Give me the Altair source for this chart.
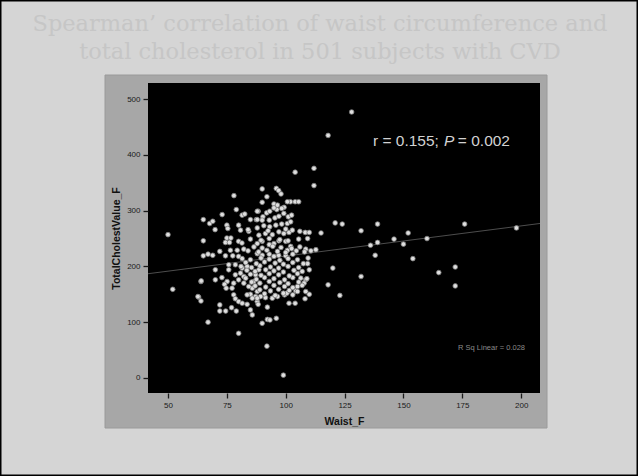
import altair as alt
import pandas as pd

# ---- data (waist circumference, total cholesterol) ----
waist = [
    # outliers right / top
    128, 118, 121, 124, 139, 132, 152, 146, 139, 136, 150, 160, 176, 198, 138, 154,
    115, 120, 132, 118, 123, 165, 172, 172, 104, 112, 112, 102, 104, 105.5,
    # outliers left / bottom
    50, 52, 64, 63, 64, 67, 80, 92, 99, 90, 92.2, 93.3, 96,
    72, 72, 74.5, 77, 79, 62.7,
    # upper-left scatter
    90, 96, 97, 98, 78, 92, 65, 67.7, 69, 70, 73, 65, 79, 75, 75.4, 80, 80.8, 81.5, 82.6,
    88.3, 85, 87.5, 84.3, 75, 76.7, 74.4, 76.1, 80, 81.4, 72, 65, 67, 69, 74.4, 77.5, 80,
    76.5, 79.4, 82.2, 90, 91.9, 95, 96.2, 99.3, 100.7,
    # upper part of the cluster
    87.9, 90.3, 93.2, 95, 96.5, 98.3,
    87.9, 90, 93, 95.4, 97.1, 99.2, 101.1, 102.5,
    87.9, 90.7, 93.2, 95.8, 98.3, 100.7, 102.1,
    88.6, 91.4, 94.3, 97.1, 99.2, 101.4, 102.8, 108.3, 110, 109.3,
    87.9, 90, 93, 95, 97.1, 100, 102.1, 100.7, 108.5, 110.7, 112.8,
    87.9, 90, 93, 95, 97, 100, 103,
    # lower-left of the cluster
    64.1, 70.1, 70.1, 72.9, 75.1, 75.8, 74, 74.7, 77.2, 77.9,
    77.9, 78.6, 80, 81.5, 83.6, 85, 85.8,
    85.8, 87.9, 87.2, 85, 78.6, 80.8, 82.2, 80, 75.8, 78.6, 81.5, 83.6,
    82.2, 84.3, 86.4, 87.2, 88.6, 83.6, 85.8, 87.9,
    # lower-right of the cluster
    109.3, 110, 108.5, 106.4, 107.8, 105, 104.3, 108.5, 110, 108.2, 101.4, 104,
    88.3, 92.2, 99.5, 100.5, 96.5, 94.3, 91.4, 89.3, 87.9,
    # dense core
    91, 95.5, 99, 103,
    89, 93.5, 97, 101.5, 105,
    87, 91.5, 95, 99.5, 103, 107,
    85.5, 89, 93, 97.5, 101, 105.5,
    83, 87.5, 91, 95, 99.5, 103, 109,
    85, 89.5, 93, 97, 101.5, 105,
    83.5, 87, 91.5, 95, 99, 103.5, 107,
    81, 85.5, 89, 93.5, 97, 101, 105.5,
    83, 87.5, 91, 95.5, 99, 103, 107.5,
    81.5, 85, 89.5, 93, 97.5, 101, 105, 109.5,
    84, 88.5, 92, 96.5, 100, 104.5, 108,
    86.5, 90, 94.5, 98, 102.5, 106,
    85, 89.5, 93, 97.5, 101, 105.5,
    84, 92.5, 100, 106,
]
cholesterol = [
    477, 435, 278, 276, 276, 264, 260, 249, 243, 238, 240, 250, 276, 269, 220, 214,
    260, 197, 182, 167, 148, 189, 199, 165, 369, 376, 345, 316, 316, 316,
    257, 159, 173, 145, 138, 100, 80, 57, 5, 98, 105, 104, 107,
    131, 120, 120, 126, 120, 146,
    339, 340, 336, 330, 327, 325, 284, 277, 281, 266, 293, 246, 302, 274, 268, 274, 265, 292, 294,
    299, 284, 284, 263, 251, 251, 243, 243, 245, 242, 227, 219, 222, 220, 219, 219, 218,
    229, 229, 231, 315, 296, 312, 302, 306, 316,
    299, 289, 299, 305, 310, 304,
    284, 283, 283, 287, 290, 295, 289, 292,
    269, 273, 271, 274, 276, 277, 280,
    256, 259, 257, 262, 259, 261, 265, 261, 261, 250,
    241, 245, 239, 241, 246, 245, 236, 229, 231, 228, 230,
    223, 220, 222, 218, 220, 219, 222,
    174, 194, 176, 180, 173, 194, 168, 161, 161, 170,
    149, 142, 137, 134, 132, 122, 113,
    161, 155, 146, 150, 185, 188, 182, 176, 203, 203, 197, 200,
    170, 164, 173, 185, 194, 149, 143, 137,
    205, 194, 176, 179, 170, 164, 156, 155, 150, 142, 134, 134,
    132, 127, 149, 152, 146, 143, 144, 146, 143,
    151, 148, 152, 149,
    158, 156, 159, 157, 155,
    165, 163, 166, 164, 162, 166,
    172, 170, 173, 171, 169, 172,
    179, 177, 180, 178, 176, 180, 178,
    186, 184, 187, 185, 183, 187,
    193, 191, 194, 192, 190, 193, 191,
    200, 198, 201, 199, 197, 200, 198,
    207, 205, 208, 206, 204, 207, 205,
    214, 212, 215, 213, 211, 214, 212, 215,
    228, 226, 229, 227, 225, 228, 226,
    235, 233, 236, 234, 232, 235,
    249, 247, 250, 248, 246, 249,
    266, 264, 267, 263,
]

title_lines = ["Spearman\u2019 correlation of waist circumference and",
               "total cholesterol in 501 subjects with CVD"]
x_ticks = [50, 75, 100, 125, 150, 175, 200]
y_ticks = [0, 100, 200, 300, 400, 500]
x_domain = [41.5, 208]
y_domain = [-27, 529]

df = pd.DataFrame({"Waist_F": waist, "TotalCholestValue_F": cholesterol})
one = pd.DataFrame({"k": [0]})

W, H = 392, 310

xs = alt.Scale(domain=x_domain, nice=False, zero=False)
ys = alt.Scale(domain=y_domain, nice=False, zero=False)

border = alt.Chart(one).mark_rect(fillOpacity=0, stroke="#000000", strokeWidth=3).encode(
    x=alt.value(-148), x2=alt.value(490), y=alt.value(-83), y2=alt.value(393))

panel = alt.Chart(one).mark_rect(fill="#a7a7a7", stroke="#9a9a9a", strokeWidth=1).encode(
    x=alt.value(-43), x2=alt.value(399), y=alt.value(-8), y2=alt.value(345))

plotbg = alt.Chart(one).mark_rect(fill="#000000").encode(
    x=alt.value(0), x2=alt.value(W), y=alt.value(0), y2=alt.value(H))

title1 = alt.Chart(one).mark_text(
    text=title_lines[0], font="DejaVu Serif", fontSize=22.5, color="#c6c6c6",
    align="center", baseline="middle").encode(x=alt.value(172), y=alt.value(-59))
title2 = alt.Chart(one).mark_text(
    text=title_lines[1], font="DejaVu Serif", fontSize=22.5, color="#c6c6c6",
    align="center", baseline="middle").encode(x=alt.value(172), y=alt.value(-31))

base = alt.Chart(df)

points = base.mark_point(filled=True, size=22, fill="#dedede", stroke="#7a7a7a",
                         strokeWidth=0.8, opacity=1).encode(
    x=alt.X("Waist_F:Q", scale=xs, title="Waist_F",
            axis=alt.Axis(values=x_ticks, format="d", zindex=2)),
    y=alt.Y("TotalCholestValue_F:Q", scale=ys, title="TotalCholestValue_F",
            axis=alt.Axis(values=y_ticks, format="d", zindex=2)),
)

fit = base.transform_regression(
    "Waist_F", "TotalCholestValue_F", extent=x_domain
).mark_line(color="#4d4d4d", strokeWidth=1).encode(
    x=alt.X("Waist_F:Q", scale=xs), y=alt.Y("TotalCholestValue_F:Q", scale=ys))

ann_font = "Liberation Sans"
ann1 = alt.Chart(one).mark_text(text="r = 0.155; ", font=ann_font, fontSize=15.5,
    color="#d2d2d2", align="left", baseline="alphabetic").encode(
    x=alt.value(225), y=alt.value(63))
ann2 = alt.Chart(one).mark_text(text="P", font=ann_font, fontSize=15.5, fontStyle="italic",
    color="#d2d2d2", align="left", baseline="alphabetic").encode(
    x=alt.value(296), y=alt.value(63))
ann3 = alt.Chart(one).mark_text(text=" = 0.002", font=ann_font, fontSize=15.5,
    color="#d2d2d2", align="right", baseline="alphabetic").encode(
    x=alt.value(362), y=alt.value(63))
rsq = alt.Chart(one).mark_text(text="R Sq Linear = 0.028", font=ann_font, fontSize=7.5,
    color="#8a8a8a", align="right", baseline="middle").encode(
    x=alt.value(377), y=alt.value(265))

chart = alt.layer(
    border, panel, plotbg, title1, title2, fit, points, ann1, ann2, ann3, rsq
).properties(
    width=W, height=H,
    autosize=alt.AutoSizeParams(type="none"),
    padding={"left": 148, "top": 83, "right": 98, "bottom": 83},
    background="#d5d5d5",
).configure_view(stroke=None).configure_axis(
    grid=False, domain=False,
    labelFont="Liberation Sans", labelFontSize=8, labelColor="#1a1a1a",
    tickColor="#1a1a1a", tickSize=5, tickWidth=1.3,
    titleFont="Liberation Sans", titleFontSize=10.5, titleFontWeight="bold",
    titleColor="#111111",
).configure_axisX(labelPadding=3, titlePadding=7).configure_axisY(
    labelPadding=3, titlePadding=5)

chart.save("out.html", embed_options={"renderer": "svg", "actions": False})
